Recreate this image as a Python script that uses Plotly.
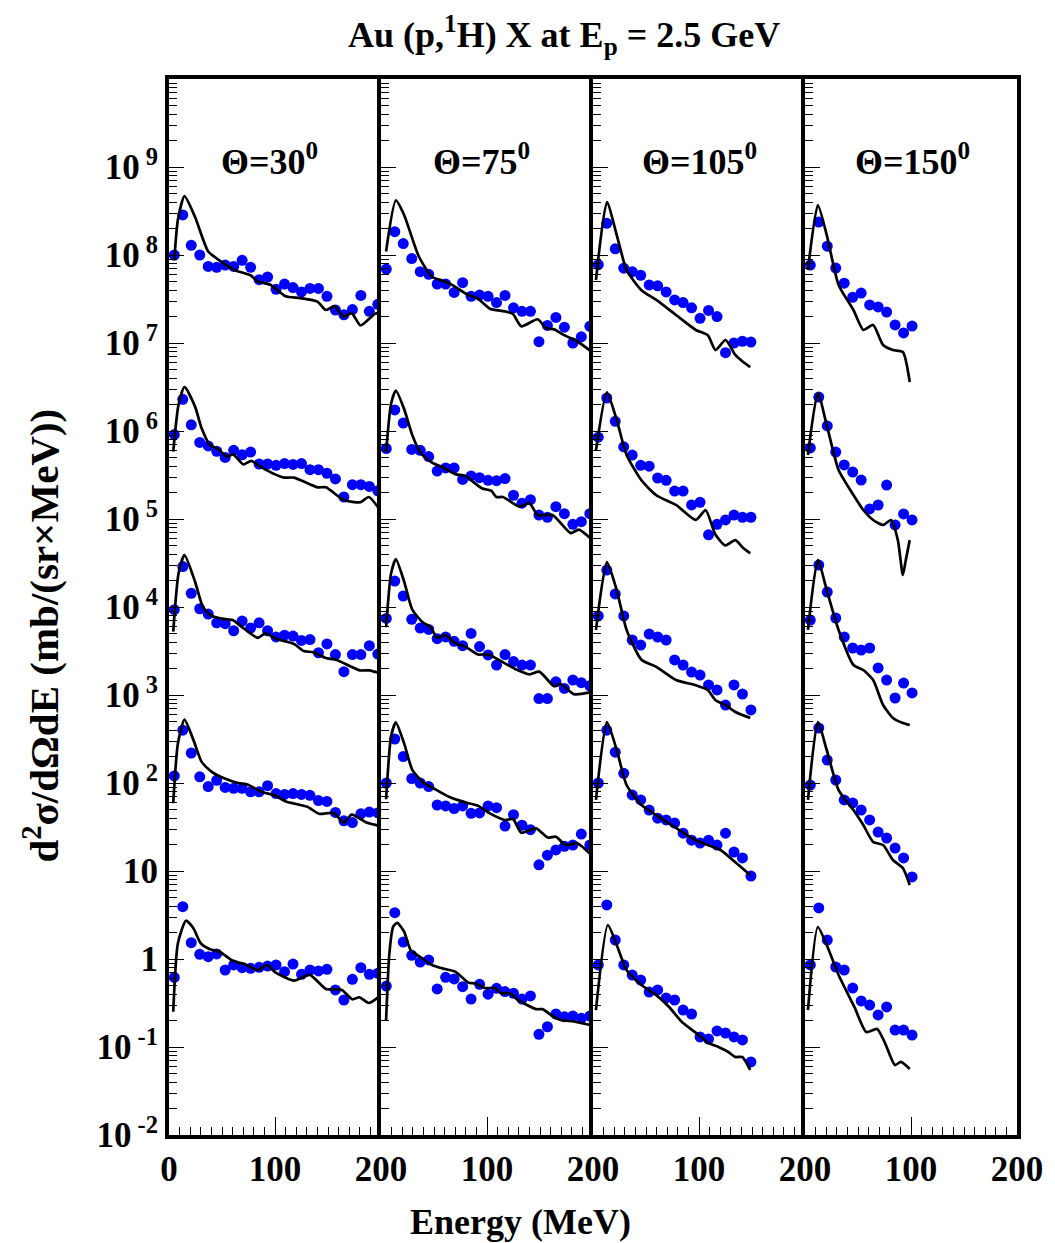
import plotly.graph_objects as go

# ---------------- data (log10 of d2sigma/dOmega dE, scaled groups) ----------------
E_dots_30 = [5, 13, 21, 29, 37, 45, 53, 61, 69, 77, 85, 93, 101, 109, 117, 125, 133, 141, 149, 157, 165, 173, 181, 189, 197]
E_dots_75 = [5, 13, 21, 29, 37, 45, 53, 61, 69, 77, 85, 93, 101, 109, 117, 125, 133, 141, 149, 157, 165, 173, 181, 189, 197]
E_dots_105 = [5, 13, 21, 29, 37, 45, 53, 61, 69, 77, 85, 93, 101, 109, 117, 125, 133, 141, 149]
E_dots_150 = [5, 13, 21, 29, 37, 45, 53, 61, 69, 77, 85, 93, 101]

# Theta = 30
d30_1 = [8.00, 8.455, 8.11, 8.00, 7.87, 7.86, 7.886, 7.87, 7.94, 7.86, 7.72, 7.75, 7.61, 7.67, 7.63, 7.58, 7.62, 7.62, 7.53, 7.375, 7.32, 7.38, 7.54, 7.36, 7.44]
d30_2 = [5.96, 6.36, 6.07, 5.87, 5.83, 5.77, 5.70, 5.78, 5.73, 5.76, 5.625, 5.625, 5.61, 5.63, 5.62, 5.63, 5.56, 5.56, 5.52, 5.455, 5.25, 5.39, 5.39, 5.37, 5.32]
d30_3 = [3.97, 4.46, 4.155, 3.98, 3.92, 3.82, 3.81, 3.73, 3.84, 3.76, 3.82, 3.73, 3.66, 3.68, 3.67, 3.62, 3.63, 3.48, 3.58, 3.46, 3.265, 3.46, 3.46, 3.56, 3.465]
d30_4 = [2.08, 2.60, 2.34, 2.07, 1.96, 2.03, 1.95, 1.94, 1.94, 1.90, 1.90, 1.97, 1.88, 1.87, 1.88, 1.87, 1.86, 1.80, 1.79, 1.665, 1.57, 1.55, 1.65, 1.67, 1.66]
d30_5 = [-0.21, 0.594, 0.185, 0.053, 0.026, 0.057, -0.125, -0.068, -0.099, -0.106, -0.095, -0.08, -0.068, -0.144, -0.057, -0.174, -0.125, -0.136, -0.117, -0.352, -0.466, -0.231, -0.099, -0.174, -0.163]

E_c30_1 = [5, 8.4, 14.6, 24.5, 37, 47.5, 61.5, 77, 83.5, 96, 110, 124, 140, 148, 156, 164.5, 172.3, 180.7, 195.6, 199.5]
c30_1 = [7.94, 8.40, 8.67, 8.435, 8.04, 7.94, 7.83, 7.77, 7.70, 7.66, 7.53, 7.51, 7.47, 7.375, 7.42, 7.30, 7.34, 7.20, 7.34, 7.28]
E_c30_2 = [4, 9, 14.6, 24.5, 30.8, 38.6, 46.4, 54.5, 60.5, 70, 77.6, 87, 99.5, 108.8, 118, 140, 148, 165, 180.5, 188.5, 199.5]
c30_2 = [5.765, 6.30, 6.50, 6.28, 6.03, 5.84, 5.795, 5.71, 5.735, 5.62, 5.66, 5.59, 5.51, 5.47, 5.47, 5.36, 5.36, 5.215, 5.19, 5.25, 5.095]
E_c30_3 = [4, 9, 14.6, 24.5, 32, 40, 54.5, 60.5, 68, 83.7, 91, 100.7, 118, 127, 136, 148, 157.7, 180, 189, 199.5]
c30_3 = [3.72, 4.38, 4.59, 4.29, 4.00, 3.90, 3.86, 3.85, 3.78, 3.65, 3.70, 3.64, 3.58, 3.50, 3.485, 3.42, 3.40, 3.28, 3.28, 3.245]
E_c30_4 = [4, 8.4, 14.6, 23, 30.8, 40, 52.6, 65, 74.6, 87, 99.5, 110.4, 130.5, 141.5, 155.5, 164.8, 172.4, 186.4, 199.5]
c30_4 = [1.77, 2.45, 2.72, 2.49, 2.24, 2.13, 2.05, 2.00, 1.98, 1.90, 1.86, 1.79, 1.73, 1.65, 1.66, 1.55, 1.64, 1.55, 1.51]
E_c30_5 = [4, 8.4, 16, 23, 30, 38.6, 47.8, 60.5, 71.3, 83.7, 92.4, 100.7, 118, 132.8, 148, 162.7, 173, 179.6, 188.4, 198]
c30_5 = [-0.60, 0.178, 0.435, 0.349, 0.178, 0.11, 0.083, -0.023, -0.057, -0.125, -0.068, -0.155, -0.246, -0.18, -0.34, -0.35, -0.458, -0.435, -0.50, -0.43]

# Theta = 75
d75_1 = [7.84, 8.265, 8.13, 7.96, 7.81, 7.78, 7.67, 7.67, 7.575, 7.685, 7.53, 7.545, 7.53, 7.46, 7.54, 7.40, 7.36, 7.36, 7.015, 7.20, 7.29, 7.18, 7.00, 7.07, 7.19]
d75_2 = [5.80, 6.24, 6.09, 5.79, 5.78, 5.71, 5.545, 5.58, 5.58, 5.45, 5.49, 5.47, 5.44, 5.435, 5.46, 5.27, 5.18, 5.22, 5.045, 5.02, 5.14, 5.06, 4.94, 4.97, 5.06]
d75_3 = [3.87, 4.295, 4.125, 3.86, 3.76, 3.745, 3.64, 3.66, 3.61, 3.56, 3.70, 3.55, 3.455, 3.34, 3.46, 3.38, 3.34, 3.34, 2.96, 2.96, 3.15, 3.075, 3.17, 3.14, 3.105]
d75_4 = [2.00, 2.50, 2.30, 2.05, 2.00, 1.96, 1.75, 1.74, 1.71, 1.74, 1.655, 1.66, 1.74, 1.72, 1.51, 1.64, 1.52, 1.47, 1.07, 1.18, 1.24, 1.28, 1.295, 1.42, 1.295]
d75_5 = [-0.307, 0.526, 0.193, 0.042, -0.034, -0.011, -0.34, -0.208, -0.227, -0.314, -0.455, -0.288, -0.40, -0.333, -0.37, -0.39, -0.455, -0.42, -0.856, -0.77, -0.625, -0.655, -0.648, -0.674, -0.648]

E_c75_1 = [4.8, 14, 21.8, 35.8, 48.3, 57.6, 67, 79.4, 91.8, 102.7, 116.7, 124.5, 132.3, 147.8, 155.6, 163.4, 172.7, 185.1, 197.6]
c75_1 = [8.04, 8.62, 8.455, 7.98, 7.75, 7.71, 7.66, 7.565, 7.50, 7.39, 7.36, 7.33, 7.19, 7.27, 7.17, 7.155, 7.09, 7.02, 6.91]
E_c75_2 = [4.8, 9.5, 14, 21.8, 29.5, 37.3, 48.2, 57.6, 70, 79.4, 95, 104.2, 108.8, 115, 130.6, 140, 147.8, 161.8, 178.9, 186.7, 197.6]
c75_2 = [5.76, 6.31, 6.46, 6.25, 5.955, 5.75, 5.64, 5.59, 5.51, 5.49, 5.35, 5.32, 5.25, 5.25, 5.14, 5.18, 5.045, 5.045, 4.84, 4.88, 4.78]
E_c75_3 = [4.8, 9.5, 14, 21.8, 29.5, 39, 46.8, 53, 60.8, 70, 79.4, 91.8, 101, 126, 140, 149.3, 163.4, 169.5, 182, 197.6]
c75_3 = [3.77, 4.38, 4.545, 4.29, 3.97, 3.83, 3.77, 3.65, 3.68, 3.59, 3.55, 3.46, 3.46, 3.30, 3.235, 3.265, 3.10, 3.125, 3.01, 3.03]
E_c75_4 = [4.8, 9.5, 14, 21.8, 29.5, 39, 48, 64.6, 79.4, 91.8, 102.7, 116.7, 124.5, 132.3, 146.3, 157.2, 165, 174.3, 185.1, 197.6]
c75_4 = [1.815, 2.53, 2.69, 2.45, 2.15, 2.015, 1.95, 1.84, 1.78, 1.74, 1.655, 1.58, 1.59, 1.435, 1.485, 1.38, 1.39, 1.295, 1.315, 1.19]
E_c75_5 = [4.8, 7.9, 11.5, 15.3, 21.8, 28, 39, 48, 57.6, 70, 82.5, 88.8, 98, 107.4, 113.6, 121.4, 129.2, 146.3, 152.5, 160.3, 169.6, 182, 197.6]
c75_5 = [-0.693, 0.064, 0.367, 0.41, 0.31, 0.102, 0.008, -0.068, -0.106, -0.144, -0.27, -0.277, -0.33, -0.33, -0.39, -0.39, -0.466, -0.57, -0.57, -0.636, -0.693, -0.71, -0.75]

# Theta = 105
d105_1 = [7.89, 8.36, 8.07, 7.85, 7.81, 7.77, 7.66, 7.65, 7.58, 7.49, 7.46, 7.40, 7.28, 7.37, 7.30, 6.89, 7.00, 7.02, 7.01]
d105_2 = [5.93, 6.375, 6.11, 5.82, 5.727, 5.61, 5.60, 5.466, 5.44, 5.318, 5.318, 5.16, 5.19, 4.82, 4.94, 4.99, 5.045, 5.02, 5.02]
d105_3 = [3.898, 4.42, 4.148, 3.898, 3.625, 3.568, 3.693, 3.659, 3.625, 3.398, 3.341, 3.261, 3.227, 3.114, 3.057, 2.886, 3.114, 3.011, 2.83]
d105_4 = [2.00, 2.60, 2.35, 2.11, 1.864, 1.807, 1.693, 1.60, 1.58, 1.545, 1.43, 1.35, 1.318, 1.35, 1.295, 1.43, 1.216, 1.148, 0.943]
d105_5 = [-0.068, 0.614, 0.216, -0.068, -0.182, -0.239, -0.375, -0.352, -0.443, -0.466, -0.58, -0.625, -0.886, -0.909, -0.818, -0.841, -0.886, -0.92, -1.17]

E_c105_1 = [2.8, 13.1, 22.4, 31.7, 45.7, 59.7, 78.3, 97, 108.2, 115.6, 125, 134.3, 141.7, 148.3]
c105_1 = [7.716, 8.60, 8.227, 7.83, 7.60, 7.489, 7.318, 7.148, 7.09, 6.92, 7.034, 6.864, 6.784, 6.727]
E_c105_2 = [2.8, 13.1, 22.4, 31.7, 45.7, 59.7, 78.3, 97, 106.3, 115.6, 125, 134.3, 141.7, 148.3]
c105_2 = [5.78, 6.44, 6.125, 5.727, 5.44, 5.27, 5.16, 4.99, 5.10, 4.82, 4.70, 4.76, 4.67, 4.61]
E_c105_3 = [2.8, 13.1, 22.4, 31.7, 45.7, 59.7, 78.3, 97, 108.2, 115.6, 125, 134.3, 148.3]
c105_3 = [3.74, 4.51, 4.19, 3.74, 3.40, 3.32, 3.17, 3.11, 3.057, 2.94, 2.886, 2.807, 2.74]
E_c105_4 = [2.8, 13.1, 22.4, 31.7, 45.7, 59.7, 78.3, 97, 108.2, 120.3, 134.3, 148.3]
c105_4 = [1.807, 2.693, 2.375, 1.977, 1.75, 1.636, 1.489, 1.35, 1.295, 1.239, 1.10, 0.955]
E_c105_5 = [2.8, 14, 22.4, 31.7, 45.7, 59.7, 71.8, 83.9, 99.8, 109.1, 118.4, 127.7, 134.3, 140.8, 148.3]
c105_5 = [-0.58, 0.386, 0.159, -0.125, -0.295, -0.41, -0.545, -0.716, -0.864, -0.955, -1.0, -1.057, -1.114, -1.114, -1.26]

# Theta = 150
d150_1 = [7.886, 8.375, 8.10, 7.852, 7.68, 7.52, 7.568, 7.432, 7.41, 7.352, 7.205, 7.114, 7.193]
d150_2 = [5.807, 6.386, 6.057, 5.761, 5.614, 5.534, 5.443, 5.114, 5.159, 5.386, 4.932, 5.057, 4.989]
d150_3 = [3.852, 4.477, 4.17, 3.875, 3.659, 3.534, 3.511, 3.534, 3.307, 3.17, 2.966, 3.136, 3.023]
d150_4 = [1.977, 2.625, 2.261, 2.034, 1.807, 1.773, 1.693, 1.58, 1.443, 1.375, 1.261, 1.148, 0.932]
d150_5 = [-0.068, 0.58, 0.216, -0.091, -0.125, -0.33, -0.477, -0.523, -0.636, -0.545, -0.807, -0.807, -0.864]

E_c150_1 = [2.8, 12.1, 20.5, 31.7, 45.7, 55, 64.3, 73.7, 83, 92.3, 98.8]
c150_1 = [7.83, 8.568, 8.227, 7.66, 7.375, 7.148, 7.205, 6.977, 6.92, 6.898, 6.557]
E_c150_2 = [2.8, 12.1, 20.5, 31.7, 45.7, 55, 64.3, 73.7, 81.1, 87.6, 92.3, 95.1, 98.8]
c150_2 = [5.727, 6.432, 6.068, 5.557, 5.273, 5.102, 4.989, 4.932, 4.989, 4.76, 4.364, 4.534, 4.76]
E_c150_3 = [2.8, 12.1, 20.5, 31.7, 45.7, 55, 64.3, 73.7, 83, 92.3, 98.8]
c150_3 = [3.739, 4.534, 4.193, 3.739, 3.341, 3.284, 3.17, 2.886, 2.739, 2.682, 2.659]
E_c150_4 = [2.8, 12.1, 20.5, 31.7, 45.7, 55, 64.3, 73.7, 83, 92.3, 98.8]
c150_4 = [1.807, 2.693, 2.375, 1.92, 1.693, 1.523, 1.33, 1.295, 1.125, 1.034, 0.841]
E_c150_5 = [2.8, 12.1, 20.5, 31.7, 46.6, 57.8, 68, 75.5, 84.8, 90.5, 98.8]
c150_5 = [-0.58, 0.364, 0.159, -0.182, -0.545, -0.83, -0.795, -0.955, -1.205, -1.17, -1.25]

angle_labels = ["Θ=30<sup>0</sup>", "Θ=75<sup>0</sup>", "Θ=105<sup>0</sup>", "Θ=150<sup>0</sup>"]
y_tick_exponents = [-2, -1, 0, 1, 2, 3, 4, 5, 6, 7, 8, 9]
y_tick_text = ["10<sup> -2</sup>", "10<sup> -1</sup>", "1", "10", "10<sup> 2</sup>", "10<sup> 3</sup>",
               "10<sup> 4</sup>", "10<sup> 5</sup>", "10<sup> 6</sup>", "10<sup> 7</sup>", "10<sup> 8</sup>", "10<sup> 9</sup>"]

# ---------------- assemble ----------------
panels = [
    (E_dots_30, [d30_1, d30_2, d30_3, d30_4, d30_5],
     [(E_c30_1, c30_1), (E_c30_2, c30_2), (E_c30_3, c30_3), (E_c30_4, c30_4), (E_c30_5, c30_5)]),
    (E_dots_75, [d75_1, d75_2, d75_3, d75_4, d75_5],
     [(E_c75_1, c75_1), (E_c75_2, c75_2), (E_c75_3, c75_3), (E_c75_4, c75_4), (E_c75_5, c75_5)]),
    (E_dots_105, [d105_1, d105_2, d105_3, d105_4, d105_5],
     [(E_c105_1, c105_1), (E_c105_2, c105_2), (E_c105_3, c105_3), (E_c105_4, c105_4), (E_c105_5, c105_5)]),
    (E_dots_150, [d150_1, d150_2, d150_3, d150_4, d150_5],
     [(E_c150_1, c150_1), (E_c150_2, c150_2), (E_c150_3, c150_3), (E_c150_4, c150_4), (E_c150_5, c150_5)]),
]

FONT = "Liberation Serif"
fig = go.Figure()

for i, (edots, dots, curves) in enumerate(panels):
    xa = "x" if i == 0 else f"x{i+1}"
    ya = "y" if i == 0 else f"y{i+1}"
    for d in dots:
        fig.add_trace(go.Scatter(x=edots, y=[10 ** v for v in d], xaxis=xa, yaxis=ya, mode="markers",
                                 marker=dict(color="#0000ff", size=11, line=dict(width=0)),
                                 showlegend=False))
    for ec, c in curves:
        fig.add_trace(go.Scatter(x=ec, y=[10 ** v for v in c], xaxis=xa, yaxis=ya, mode="lines",
                                 line=dict(color="black", width=2.7, shape="spline", smoothing=0.6),
                                 showlegend=False))

minor_y = [k * 10.0 ** n for n in range(-2, 10) for k in range(2, 10)]
tick_font = dict(family=FONT, size=35, color="black", weight="bold")

# the page body has an 8px margin; the figure is sized so the plot area lands at
# x 169..1025, y 79..1135 of the browser window (as in the reference)
layout = dict(
    width=1047, height=1235,
    margin=dict(l=161, r=30, t=71, b=108),
    paper_bgcolor="white", plot_bgcolor="white",
    showlegend=False,
)
for i in range(4):
    xkey = "xaxis" if i == 0 else f"xaxis{i+1}"
    ykey = "yaxis" if i == 0 else f"yaxis{i+1}"
    xa_anchor = "y" if i == 0 else f"y{i+1}"
    ya_anchor = "x" if i == 0 else f"x{i+1}"
    tv = [0, 100, 200] if i == 0 else [100, 200]
    layout[xkey] = dict(
        domain=[i * 0.25, (i + 1) * 0.25], anchor=xa_anchor, range=[0, 200],
        tickmode="array", tickvals=tv, ticktext=[str(v) for v in tv],
        ticks="inside", ticklen=18, tickwidth=1.2, tickcolor="black",
        minor=dict(ticks="inside", dtick=10, tick0=0, ticklen=8, tickwidth=1, tickcolor="black", showgrid=False),
        showline=True, linewidth=4, linecolor="black", mirror=True,
        showgrid=False, zeroline=False, tickfont=tick_font, ticklabelstandoff=0,
    )
    layout[ykey] = dict(
        domain=[0, 1], anchor=ya_anchor, type="log", range=[-2, 10],
        tickmode="array", tickvals=[10.0 ** e for e in y_tick_exponents], ticktext=y_tick_text,
        ticks="inside", ticklen=15, tickwidth=1.2, tickcolor="black",
        minor=dict(ticks="inside", tickmode="array", tickvals=minor_y, ticklen=8, tickwidth=1,
                   tickcolor="black", showgrid=False),
        showline=True, linewidth=4, linecolor="black", mirror=(i == 3),
        showgrid=False, zeroline=False, showticklabels=(i == 0), tickfont=tick_font,
    )

annotations = []
label_x = [0.118, 0.368, 0.626, 0.877]
for lx, txt in zip(label_x, angle_labels):
    annotations.append(dict(xref="paper", yref="paper", x=lx, y=0.924, text=txt, showarrow=False,
                            xanchor="center", yanchor="middle",
                            font=dict(family=FONT, size=36, color="black", weight="bold")))
annotations.append(dict(xref="paper", yref="paper", x=0.466, y=1.0417,
                        text="Au (p,<sup>1</sup>H) X at E<sub>p</sub> = 2.5 GeV", showarrow=False,
                        xanchor="center", yanchor="middle",
                        font=dict(family=FONT, size=36, color="black", weight="bold")))
annotations.append(dict(xref="paper", yref="paper", x=0.4147, y=-0.0824, text="Energy (MeV)", showarrow=False,
                        xanchor="center", yanchor="middle",
                        font=dict(family=FONT, size=36, color="black", weight="bold")))
annotations.append(dict(xref="paper", yref="paper", x=-0.152, y=0.473,
                        text="d<sup>2</sup>σ/dΩdE (mb/(sr×MeV))", showarrow=False, textangle=-90,
                        xanchor="center", yanchor="middle",
                        font=dict(family=FONT, size=41, color="black", weight="bold")))
layout["annotations"] = annotations

fig.update_layout(**layout)
fig.write_html("out.html")
